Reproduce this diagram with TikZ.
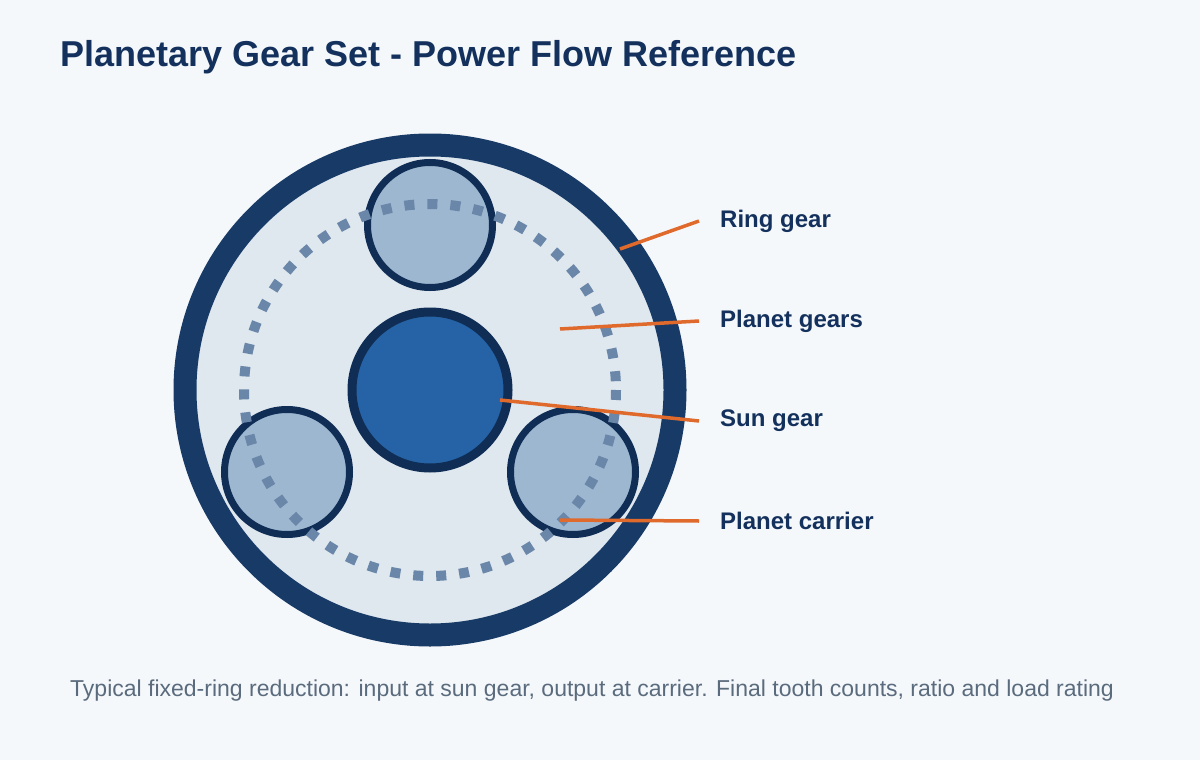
\documentclass[tikz,border=0pt]{standalone}
\usepackage{fontspec}
\setmainfont{Liberation Sans}
\definecolor{bg}{HTML}{F5F8FB}
\definecolor{navy}{HTML}{173A66}
\definecolor{dark}{HTML}{102E55}
\definecolor{inner}{HTML}{DFE7EF}
\definecolor{planet}{HTML}{9DB7D1}
\definecolor{sun}{HTML}{2563A6}
\definecolor{dashc}{HTML}{6A86A8}
\definecolor{orange}{HTML}{E06A2C}
\definecolor{titlec}{HTML}{13315C}
\definecolor{capc}{HTML}{5A6B7D}
\begin{document}
\begin{tikzpicture}[x=1pt,y=-1pt,
  planetg/.style={circle,draw=dark,fill=planet,line width=7pt,minimum size=125pt,inner sep=0pt},
  lead/.style={draw=orange,line width=3.5pt},
  lbl/.style={anchor=west,font=\fontsize{24}{28}\selectfont\bfseries,text=titlec,inner sep=0pt}]
\useasboundingbox (0,0) rectangle (1200,760);
\clip (0,0) rectangle (1200,760);
\fill[bg] (0,0) rectangle (1200,760);
\node[anchor=west,inner sep=0pt,font=\fontsize{36}{40}\selectfont\bfseries,text=titlec] (title) at (60,57) {Planetary Gear Set - Power Flow Reference};
\node[circle,draw=navy,fill=inner,line width=23pt,minimum size=490pt,inner sep=0pt] (ring) at (430,390) {};
\node[planetg] (p1) at (430,225) {};
\node[planetg] (p2) at (287,472) {};
\node[planetg] (p3) at (573,472) {};
\node[circle,draw=dark,fill=sun,line width=9pt,minimum size=156pt,inner sep=0pt] (sun) at (430,390) {};
\draw[dashc,line width=10pt,dash pattern=on 10pt off 13pt] (430,390) circle[radius=186];
\coordinate (r1) at (620,249); \coordinate (r2) at (560,329);
\coordinate (r3) at (500,400); \coordinate (r4) at (560,520);
\node[lbl] (l1) at (720,221) {Ring gear};
\node[lbl] (l2) at (720,321) {Planet gears};
\node[lbl] (l3) at (720,421) {Sun gear};
\node[lbl] (l4) at (720,521) {Planet carrier};
\draw[lead] (r1) -- ([xshift=-21pt]l1.west);
\draw[lead] (r2) -- ([xshift=-21pt]l2.west);
\draw[lead] (r3) -- ([xshift=-21pt]l3.west);
\draw[lead] (r4) -- ([xshift=-21pt]l4.west);
\node[anchor=west,inner sep=0pt,font=\fontsize{23}{27}\selectfont,text=capc] (cap) at (70,691) {Typical fixed-ring reduction: input at sun gear, output at carrier. Final tooth counts, ratio and load rating};
\end{tikzpicture}
\end{document}
